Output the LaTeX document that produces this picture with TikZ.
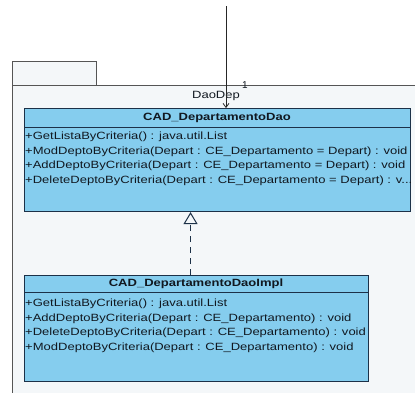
\documentclass[tikz,border=0pt]{standalone}
\usepackage{fontspec}
\setmainfont{Liberation Sans}
\newfontfamily\umlfont[FakeStretch=1.24]{Liberation Sans}
\usetikzlibrary{arrows.meta}
\definecolor{classfill}{HTML}{85CDEE}
\definecolor{classline}{HTML}{1C3148}
\definecolor{pkgfill}{HTML}{F4F7F9}
\definecolor{pkgline}{HTML}{555555}
\definecolor{txt}{HTML}{111820}
\tikzset{
  pkg/.style={draw=pkgline, fill=pkgfill, line width=1pt},
  classbox/.style={draw=classline, fill=classfill, line width=1.1pt, anchor=north west, inner sep=0pt},
  sepline/.style={draw=classline, line width=0.9pt},
  cname/.style={font=\umlfont\fontsize{10.5}{12}\selectfont\bfseries, text=txt, inner sep=0pt},
  member/.style={font=\umlfont\fontsize{10.5}{12}\selectfont, text=txt, anchor=west, inner sep=0pt},
  plain/.style={font=\umlfont\fontsize{10.5}{12}\selectfont, text=txt, inner sep=0pt},
  multlabel/.style={font=\fontsize{10}{11}\selectfont, text=txt, inner sep=0pt},
  assoc/.style={draw=black!85, line width=0.8pt, -{Straight Barb[length=4pt,width=6pt]}},
  realize/.style={draw=classline, line width=1pt, dash pattern=on 6pt off 5pt,
    -{Triangle[open, length=12pt, width=14pt, line width=1pt, fill=pkgfill]}}
}
\begin{document}
\begin{tikzpicture}[x=1pt, y=-1pt]
\useasboundingbox (0,0) rectangle (415,392);
\clip (0,0) rectangle (415,392);
\fill[white] (0,0) rectangle (415,392);

% package DaoDep
\draw[pkg] (12,61) rectangle (96,85);
\draw[pkg] (12,85) rectangle (430,400);
\node[plain] (pkgname) at (216,96) {DaoDep};

% interface
\node[classbox, minimum width=386pt, minimum height=103pt] (dao) at (24,108) {};
\draw[sepline] (24,127) -- (410,127);
\node[cname] (daoname) at (217,118) {CAD\_DepartamentoDao};
\node[member] (d1) at (25,137) {+GetListaByCriteria() : java.util.List};
\node[member] (d2) at (25,151.5) {+ModDeptoByCriteria(Depart : CE\_Departamento = Depart) : void};
\node[member] (d3) at (25,166) {+AddDeptoByCriteria(Depart : CE\_Departamento = Depart) : void};
\node[member] (d4) at (25,180.5) {+DeleteDeptoByCriteria(Depart : CE\_Departamento = Depart) : v...};

% implementation
\node[classbox, minimum width=344pt, minimum height=106pt] (impl) at (24,275) {};
\draw[sepline] (24,292) -- (368,292);
\node[cname] (implname) at (196,284) {CAD\_DepartamentoDaoImpl};
\node[member] (i1) at (25,304) {+GetListaByCriteria() : java.util.List};
\node[member] (i2) at (25,318.5) {+AddDeptoByCriteria(Depart : CE\_Departamento) : void};
\node[member] (i3) at (25,333) {+DeleteDeptoByCriteria(Depart : CE\_Departamento) : void};
\node[member] (i4) at (25,347.5) {+ModDeptoByCriteria(Depart : CE\_Departamento) : void};

% realization
\draw[realize] ([xshift=-6pt]impl.north) -- ([xshift=-6pt]impl.north |- dao.south);

% incoming association
\coordinate (src) at (226,6);
\draw[assoc] (src) -- (src |- dao.north);
\node[multlabel] (mult) at (245,85) {1};
\end{tikzpicture}
\end{document}
